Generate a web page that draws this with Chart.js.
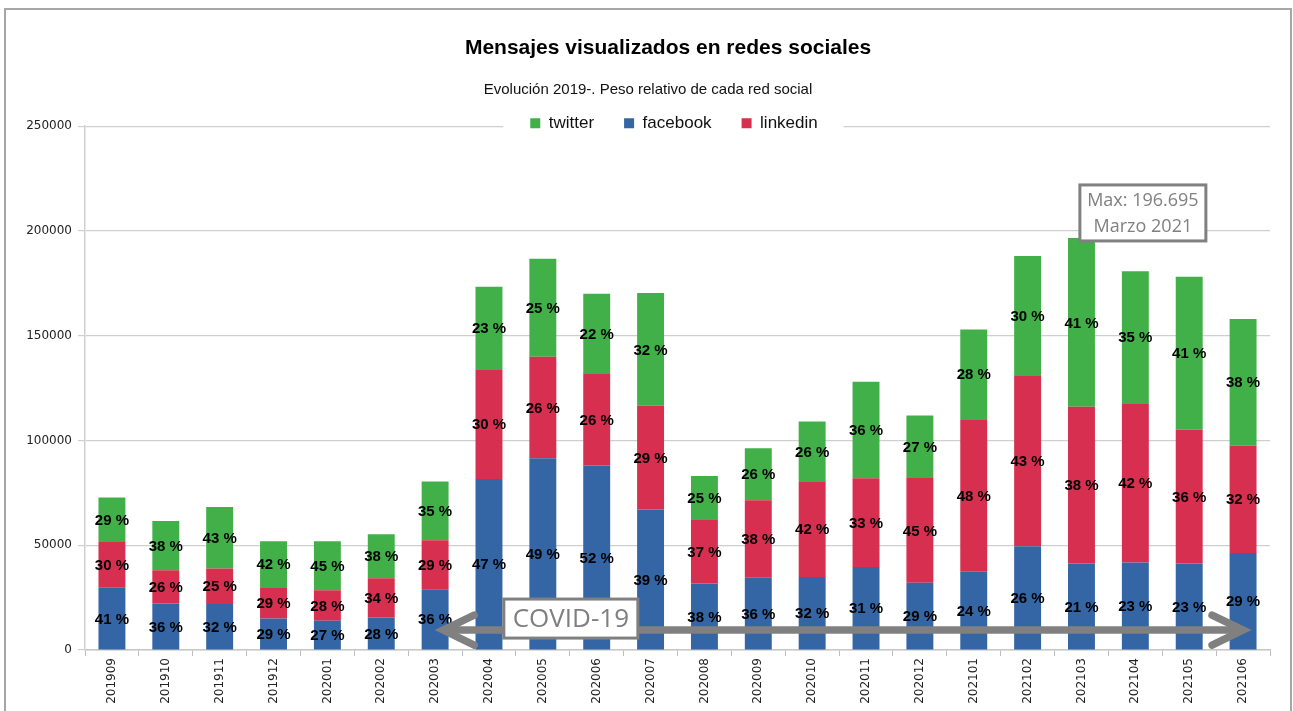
<!DOCTYPE html>
<html><head><meta charset="utf-8">
<script src="https://cdn.jsdelivr.net/npm/chart.js@4.4.1/dist/chart.umd.min.js"></script>
<style>html,body{margin:0;padding:0;background:#fff;overflow:hidden}canvas{display:block}</style>
</head><body>
<canvas id="c" width="1293" height="711"></canvas>
<script>
// ---- data ----
const categories = ['201909','201910','201911','201912','202001','202002','202003','202004','202005','202006','202007','202008','202009','202010','202011','202012','202101','202102','202103','202104','202105','202106'];
const facebook = [29700, 22240, 21900, 15000, 13950, 15500, 29050, 81570, 91500, 88100, 67000, 31760, 34430, 34900, 39600, 32050, 37290, 49520, 41300, 41760, 41290, 46300];
const linkedin = [21900, 15870, 17000, 15000, 14600, 18800, 23330, 52380, 48500, 43950, 49520, 30620, 37000, 45600, 42400, 50000, 72860, 81570, 74750, 76000, 63950, 51200];
const twitter  = [21140, 23490, 29300, 21900, 23330, 20900, 28100, 39380, 46700, 38000, 53810, 20620, 24900, 28500, 46000, 29860, 42860, 57000, 80645, 63050, 72860, 60500];
const legendOrder = ['twitter', 'facebook', 'linkedin'];
const monthNames = ['Enero','Febrero','Marzo','Abril','Mayo','Junio','Julio','Agosto','Septiembre','Octubre','Noviembre','Diciembre'];
const yMin = 0, yMax = 250000, yStep = 50000;
const covidLabel = 'COVID-19';
const covidFrom = 6.15, covidTo = 21.0, covidY = 9500;      // arrow span (category index) and level
const covidBoxAt = [8.52, 15000];                              // label box centre (category index, value)
const maxBoxAt = [19.14, 208600];

const COL = { twitter: '#42b048', facebook: '#3465a4', linkedin: '#d62f4f' };
const GRID = '#cfcfcf';

const totals = categories.map((_, i) => facebook[i] + linkedin[i] + twitter[i]);
const maxIdx = totals.indexOf(Math.max(...totals));
function fmtEs(n) { return String(n).replace(/\B(?=(\d{3})+(?!\d))/g, '.'); }
const maxText = 'Max: ' + fmtEs(totals[maxIdx]);
const maxWhen = monthNames[parseInt(categories[maxIdx].slice(4), 10) - 1] + ' ' + categories[maxIdx].slice(0, 4);

// ---- plugins ----
const framePlugin = {
  id: 'frame',
  beforeDraw(chart) {
    const ctx = chart.ctx;
    ctx.save();
    ctx.fillStyle = '#fff';
    ctx.fillRect(0, 0, chart.width, chart.height);
    ctx.strokeStyle = '#a6a6a6';
    ctx.lineWidth = 2;
    ctx.strokeRect(5, 9, 1286, 720);
    ctx.restore();
  }
};

const LEGEND_PAD = 30;
const legendPatch = {
  id: 'legendPatch',
  beforeLayout(chart) {
    const lg = chart.legend;
    if (!lg || lg._patched) return;
    lg._patched = true;
    const protoFit = Object.getPrototypeOf(lg).fit;
    lg.fit = function () { protoFit.call(this); this.height = 41.5; };
    lg._layers = function () {
      return [{ z: 0, draw() {
        const ctx = chart.ctx;
        const lw = lg.lineWidths ? lg.lineWidths[0] : 0;
        const start = (lg.left + LEGEND_PAD + lg.right - lw) / 2;
        const end = start + lw - LEGEND_PAD;
        const cy = lg.top + LEGEND_PAD + 8.5;
        ctx.save();
        ctx.fillStyle = '#fff';
        ctx.fillRect(start - 27, cy - 10, end - start + 53, 20);
        ctx.restore();
        const b = lg.bottom, h = lg.height;
        lg.bottom = b + 30; lg.height = h + 30;
        lg.draw();
        lg.bottom = b; lg.height = h;
      } }];
    };
  },
  afterLayout(chart) {
    if (chart.titleBlock) chart.titleBlock.left += 40;
    if (chart.legend) { chart.legend.left += 26; chart.legend.right += 26; }
  }
};

const pctLabels = {
  id: 'pctLabels',
  afterDatasetsDraw(chart) {
    const ctx = chart.ctx;
    ctx.save();
    ctx.font = 'bold 15px "Liberation Sans", Arial, sans-serif';
    ctx.fillStyle = '#000';
    ctx.textAlign = 'center';
    ctx.textBaseline = 'middle';
    chart.data.datasets.forEach((ds, di) => {
      const meta = chart.getDatasetMeta(di);
      meta.data.forEach((bar, i) => {
        const total = chart.data.datasets.reduce((s, d) => s + d.data[i], 0);
        const pct = Math.round(ds.data[i] / total * 100);
        const p = bar.getProps(['x', 'y', 'base'], true);
        ctx.fillText(pct + ' %', p.x, (p.y + p.base) / 2 + 1);
      });
    });
    ctx.restore();
  }
};

function chevron(ctx, tx, ty, dir) {
  ctx.beginPath();
  ctx.moveTo(tx + dir * 31, ty - 15);
  ctx.lineTo(tx, ty);
  ctx.lineTo(tx + dir * 31, ty + 15);
  ctx.stroke();
}

const annotations = {
  id: 'annotations',
  afterDraw(chart) {
    const ctx = chart.ctx, xs = chart.scales.x, ys = chart.scales.y;
    ctx.save();
    // COVID arrow
    const x1 = xs.getPixelForValue(covidFrom), x2 = xs.getPixelForValue(covidTo), y = ys.getPixelForValue(covidY);
    ctx.strokeStyle = '#808080';
    ctx.lineWidth = 7.5;
    ctx.lineCap = 'butt';
    ctx.beginPath(); ctx.moveTo(x1 + 3, y); ctx.lineTo(x2 - 3, y); ctx.stroke();
    ctx.lineCap = 'round'; ctx.lineJoin = 'miter';
    chevron(ctx, x1, y, 1);
    chevron(ctx, x2, y, -1);
    // COVID box
    const bx = xs.getPixelForValue(covidBoxAt[0]), by = ys.getPixelForValue(covidBoxAt[1]);
    const bw = 134, bh = 39;
    ctx.fillStyle = '#fff';
    ctx.fillRect(bx - bw / 2, by - bh / 2, bw, bh);
    ctx.lineWidth = 3; ctx.lineCap = 'butt'; ctx.lineJoin = 'miter';
    ctx.strokeRect(bx - bw / 2, by - bh / 2, bw, bh);
    ctx.fillStyle = '#7f7f7f';
    ctx.textAlign = 'center'; ctx.textBaseline = 'middle';
    ctx.font = '26px "Open Sans", "Liberation Sans", sans-serif';
    ctx.fillText(covidLabel, bx, by + 1);
    // Max box
    const mx = xs.getPixelForValue(maxBoxAt[0]), my = ys.getPixelForValue(maxBoxAt[1]);
    const mw = 126, mh = 56;
    ctx.fillStyle = '#fff';
    ctx.fillRect(mx - mw / 2, my - mh / 2, mw, mh);
    ctx.strokeRect(mx - mw / 2, my - mh / 2, mw, mh);
    ctx.fillStyle = '#808080';
    ctx.font = '18px "Open Sans", "Liberation Sans", sans-serif';
    ctx.fillText(maxText, mx, my - 12);
    ctx.fillText(maxWhen, mx, my + 14);
    ctx.restore();
  }
};

// ---- chart ----
const FONT = '"Liberation Sans", Arial, sans-serif';
const TICKFONT = '"DejaVu Sans", Verdana, sans-serif';
new Chart(document.getElementById('c'), {
  type: 'bar',
  data: {
    labels: categories,
    datasets: [
      { label: 'facebook', data: facebook, backgroundColor: COL.facebook },
      { label: 'linkedin', data: linkedin, backgroundColor: COL.linkedin },
      { label: 'twitter',  data: twitter,  backgroundColor: COL.twitter }
    ]
  },
  options: {
    responsive: false,
    animation: false,
    devicePixelRatio: 1,
    layout: { padding: { top: 0, left: 26, right: 23, bottom: 0 } },
    datasets: { bar: { categoryPercentage: 1, barPercentage: 0.5, borderWidth: 0 } },
    scales: {
      x: {
        stacked: true,
        offset: true,
        grid: { offset: true, drawOnChartArea: false, drawTicks: true, tickLength: 6, color: '#bdbdbd' },
        border: { color: '#c8c8c8', width: 1.5 },
        ticks: { autoSkip: false, minRotation: 90, maxRotation: 90, padding: 2, color: '#222', font: { family: TICKFONT, size: 12 } },
        afterFit(s) { s.height = 61; }
      },
      y: {
        stacked: true,
        min: yMin, max: yMax,
        ticks: { stepSize: yStep, padding: 6, color: '#222', font: { family: TICKFONT, size: 12 }, callback: v => String(v) },
        grid: { color: GRID, lineWidth: 1.2, tickLength: 7, drawTicks: true },
        border: { color: '#d0d0d0', width: 1.5 },
        afterFit(s) { s.width = 59; }
      }
    },
    plugins: {
      tooltip: { enabled: false },
      title: { display: true, text: 'Mensajes visualizados en redes sociales', color: '#000',
               font: { family: FONT, size: 21, weight: 'bold' }, padding: { top: 36, bottom: 0 } },
      subtitle: { display: true, text: 'Evolución 2019-. Peso relativo de cada red social', color: '#111',
                  font: { family: FONT, size: 15 }, padding: { top: 20, bottom: -14.5 } },
      legend: {
        position: 'top',
        labels: {
          boxWidth: 10, boxHeight: 10, padding: LEGEND_PAD, color: '#111',
          font: { family: FONT, size: 17 },
          sort: (a, b) => legendOrder.indexOf(a.text) - legendOrder.indexOf(b.text)
        }
      }
    }
  },
  plugins: [framePlugin, legendPatch, pctLabels, annotations]
});
</script>
</body></html>
